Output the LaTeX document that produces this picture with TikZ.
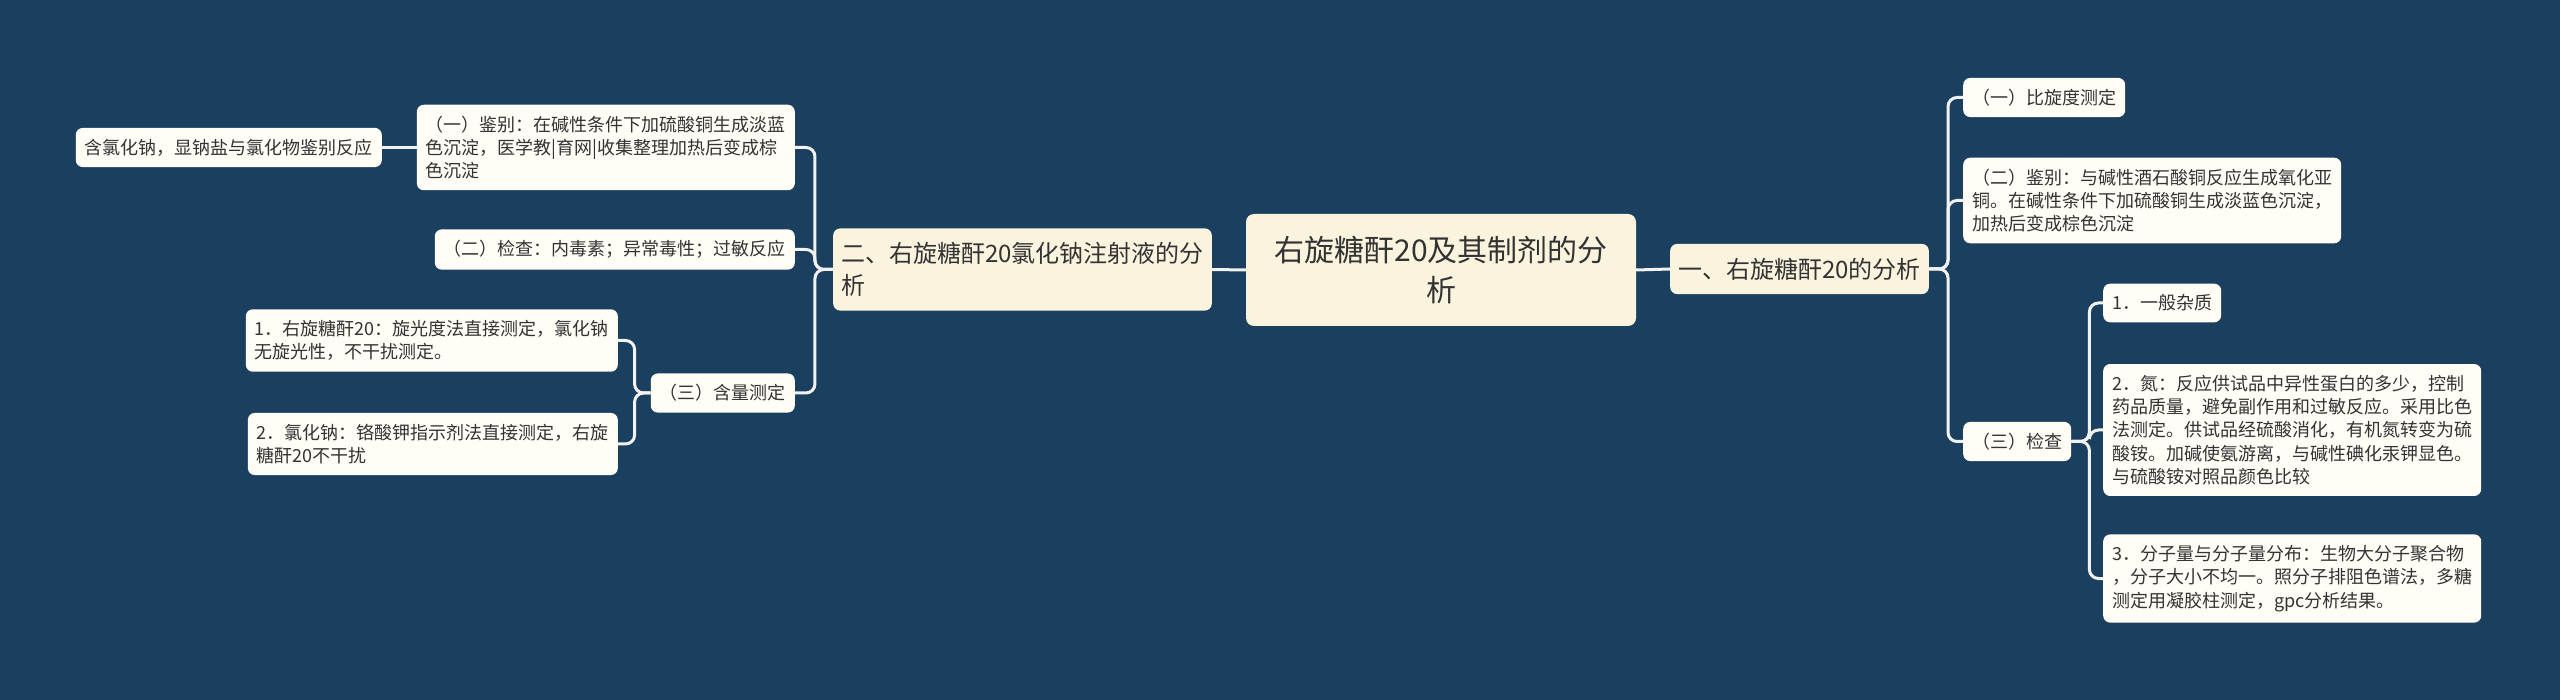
\documentclass[tikz,border=0pt]{standalone}
\usepackage{fontspec}
\newfontfamily\cjk{Noto Sans CJK SC}
\definecolor{bgblue}{HTML}{1B3F5E}
\definecolor{rootfill}{HTML}{FAF4DF}
\definecolor{leaffill}{HTML}{FFFDF6}
\definecolor{inkgray}{HTML}{333333}
\definecolor{linkwhite}{HTML}{F2F2F2}
\begin{document}
\begin{tikzpicture}[
    x=1pt, y=-1pt,
    root/.style={rectangle, fill=rootfill, rounded corners=8pt, text=inkgray, align=center, minimum width=390pt, minimum height=112pt, font=\cjk\fontsize{30}{40}\selectfont},
    branch/.style={rectangle, fill=rootfill, rounded corners=7pt, text=inkgray, align=left, inner xsep=8pt, inner ysep=14pt, font=\cjk\fontsize{24}{32}\selectfont},
    leaf/.style={rectangle, fill=leaffill, rounded corners=7pt, text=inkgray, align=left, inner xsep=9pt, inner ysep=11pt, font=\cjk\fontsize{18}{23.3}\selectfont},
    link/.style={draw=linkwhite, line width=3pt, rounded corners=9pt}
]
    % Background
    \fill [bgblue] (0,0) rectangle (2560,700);

    % Centre
    \node [root] (root) at (1441,270) {右旋糖酐20及其制剂的分\\析};

    % Main branches
    \node [branch, anchor=east] (lmain) at (1212,269.5) {二、右旋糖酐20氯化钠注射液的分\\析};
    \node [branch, anchor=west] (rmain) at (1670,269) {一、右旋糖酐20的分析};

    % Right side
    \node [leaf, anchor=west] (r1) at (1963,97.5) {（一）比旋度测定};
    \node [leaf, anchor=west] (r2) at (1963,200.5) {（二）鉴别：与碱性酒石酸铜反应生成氧化亚\\铜。在碱性条件下加硫酸铜生成淡蓝色沉淀，\\加热后变成棕色沉淀};
    \node [leaf, anchor=west] (r3) at (1963,441.5) {（三）检查};
    \node [leaf, anchor=west] (r3a) at (2103,303) {1．一般杂质};
    \node [leaf, anchor=west] (r3b) at (2103,430) {2．氮：反应供试品中异性蛋白的多少，控制\\药品质量，避免副作用和过敏反应。采用比色\\法测定。供试品经硫酸消化，有机氮转变为硫\\酸铵。加碱使氨游离，与碱性碘化汞钾显色。\\与硫酸铵对照品颜色比较};
    \node [leaf, anchor=west] (r3c) at (2103,578.5) {3．分子量与分子量分布：生物大分子聚合物\\，分子大小不均一。照分子排阻色谱法，多糖\\测定用凝胶柱测定，gpc分析结果。};

    % Left side
    \node [leaf, anchor=east] (l1) at (795,147.5) {（一）鉴别：在碱性条件下加硫酸铜生成淡蓝\\色沉淀，医学教|育网|收集整理加热后变成棕\\色沉淀};
    \node [leaf, anchor=east] (l1a) at (382,147.5) {含氯化钠，显钠盐与氯化物鉴别反应};
    \node [leaf, anchor=east] (l2) at (795,249.5) {（二）检查：内毒素；异常毒性；过敏反应};
    \node [leaf, anchor=east] (l3) at (795,393) {（三）含量测定};
    \node [leaf, anchor=east] (l3a) at (618,340.5) {1．右旋糖酐20：旋光度法直接测定，氯化钠\\无旋光性，不干扰测定。};
    \node [leaf, anchor=east] (l3b) at (618,444) {2．氯化钠：铬酸钾指示剂法直接测定，右旋\\糖酐20不干扰};

    % Links
    \draw [link] (root.west) -- (lmain.east);
    \draw [link] (root.east) -- (rmain.west);
    \draw [link] (rmain.east) -- ++(19,0) |- (r1.west);
    \draw [link] (rmain.east) -- ++(19,0) |- (r2.west);
    \draw [link] (rmain.east) -- ++(19,0) |- (r3.west);
    \draw [link] (r3.east) -- ++(18,0) |- (r3a.west);
    \draw [link] (r3.east) -- ++(18,0) |- (r3b.west);
    \draw [link] (r3.east) -- ++(18,0) |- (r3c.west);
    \draw [link] (lmain.west) -- ++(-18,0) |- (l1.east);
    \draw [link] (lmain.west) -- ++(-18,0) |- (l2.east);
    \draw [link] (lmain.west) -- ++(-18,0) |- (l3.east);
    \draw [link] (l1.west) -- (l1a.east);
    \draw [link] (l3.west) -- ++(-16,0) |- (l3a.east);
    \draw [link] (l3.west) -- ++(-16,0) |- (l3b.east);
\end{tikzpicture}
\end{document}
